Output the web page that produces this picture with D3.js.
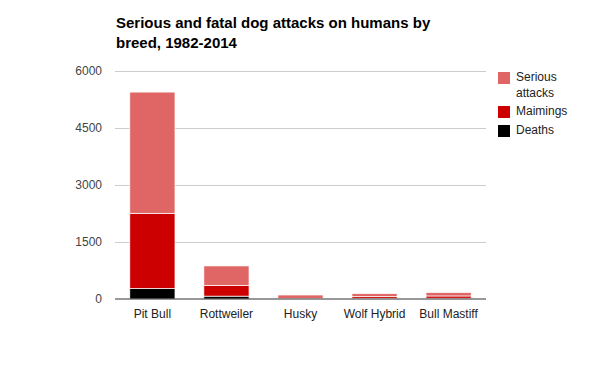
<!DOCTYPE html>
<html>
<head>
<meta charset="utf-8">
<script src="https://cdn.jsdelivr.net/npm/d3@7"></script>
<style>
    body { margin: 0; background: #fff; }
    svg { display: block; font-family: Arial, 'Liberation Sans', sans-serif; }
</style>
</head>
<body>
<div class="chart"></div>
<script>
const breeds = ['Pit Bull', 'Rottweiler', 'Husky', 'Wolf Hybrid', 'Bull Mastiff'];
const deaths = [275, 75, 5, 20, 20];
const maimings = [1980, 285, 10, 45, 60];
const seriousAttacks = [3190, 510, 90, 75, 90];
const yTicks = [0, 1500, 3000, 4500, 6000];

const seriesNames = ['Deaths', 'Maimings', 'Serious attacks'];
const palette = {
    'Deaths': '#000000',
    'Maimings': '#cc0000',
    'Serious attacks': '#e06666'
};

const width = 600;
const height = 371;
const margin = {top: 71, right: 114, bottom: 72, left: 115};

const rows = breeds.map((b, i) => ({
    breed: b,
    'Deaths': deaths[i],
    'Maimings': maimings[i],
    'Serious attacks': seriousAttacks[i]
}));

const stacked = d3.stack().keys(seriesNames)(rows);

const svg = d3.select('.chart')
    .append('svg')
    .attr('width', width)
    .attr('height', height);

const x = d3.scaleBand()
    .domain(breeds)
    .range([margin.left, width - margin.right])
    .paddingInner(0.39)
    .paddingOuter(0.2);

const y = d3.scaleLinear()
    .domain([0, 6000])
    .range([height - margin.bottom, margin.top]);

// title
svg.append('text')
    .attr('x', 116)
    .attr('y', 28)
    .style('font-size', '15px')
    .style('font-weight', 'bold')
    .attr('fill', '#000')
    .selectAll('tspan')
    .data(['Serious and fatal dog attacks on humans by', 'breed, 1982-2014'])
    .enter()
    .append('tspan')
        .attr('x', 116)
        .attr('dy', (d, i) => i == 0 ? 0 : 20)
        .text(d => d);

// gridlines
svg.append('g').selectAll('.grid')
    .data(yTicks.filter(t => t > 0))
    .enter()
    .append('line')
        .attr('x1', margin.left)
        .attr('x2', width - margin.right)
        .attr('y1', d => Math.round(y(d)) + 0.5)
        .attr('y2', d => Math.round(y(d)) + 0.5)
        .attr('stroke', '#cccccc');

// y labels
svg.append('g').selectAll('.ylabel')
    .data(yTicks)
    .enter()
    .append('text')
        .attr('x', 102)
        .attr('y', d => y(d) + 4)
        .attr('text-anchor', 'end')
        .style('font-size', '12px')
        .attr('fill', '#444')
        .text(d => d);

// bars
svg.append('g').selectAll('.serie')
    .data(stacked)
    .enter()
    .append('g')
        .attr('fill', d => palette[d.key])
    .selectAll('rect')
    .data(d => d)
    .enter()
    .append('rect')
        .attr('x', d => x(d.data.breed))
        .attr('y', d => y(d[1]))
        .attr('width', x.bandwidth())
        .attr('height', d => Math.max(0, y(d[0]) - y(d[1])))
        .attr('stroke', '#fff')
        .attr('stroke-width', 0.7);

// baseline
svg.append('line')
    .attr('x1', margin.left)
    .attr('x2', width - margin.right)
    .attr('y1', y(0))
    .attr('y2', y(0))
    .attr('stroke', '#333')
    .attr('stroke-width', 1.2);

// x labels
svg.append('g').selectAll('.xlabel')
    .data(breeds)
    .enter()
    .append('text')
        .attr('x', d => x(d) + x.bandwidth() / 2)
        .attr('y', 318)
        .attr('text-anchor', 'middle')
        .style('font-size', '12px')
        .attr('fill', '#222')
        .text(d => d);

// legend
const legendItems = [
    {name: 'Serious attacks', lines: ['Serious', 'attacks'], y: 72},
    {name: 'Maimings', lines: ['Maimings'], y: 106},
    {name: 'Deaths', lines: ['Deaths'], y: 125}
];

const legend = svg.append('g').selectAll('.legend')
    .data(legendItems)
    .enter()
    .append('g');

legend.append('rect')
    .attr('x', 498)
    .attr('y', d => d.y)
    .attr('width', 12)
    .attr('height', 12)
    .attr('fill', d => palette[d.name]);

legend.append('text')
    .attr('x', 516)
    .attr('y', d => d.y + 9)
    .style('font-size', '12px')
    .attr('fill', '#222')
    .selectAll('tspan')
    .data(d => d.lines)
    .enter()
    .append('tspan')
        .attr('x', 516)
        .attr('dy', (d, i) => i == 0 ? 0 : 16)
        .text(d => d);
</script>
</body>
</html>
